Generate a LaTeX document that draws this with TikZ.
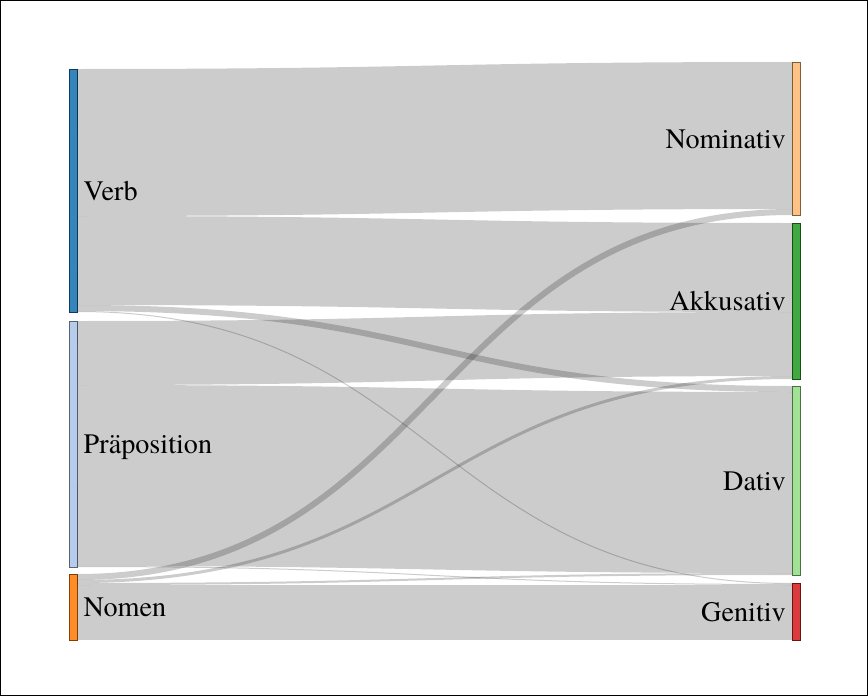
\documentclass[tikz,border=0pt]{standalone}
\usepackage{fontspec}
\newfontfamily\lblfont{texgyretermes-regular.otf}
\usetikzlibrary{positioning}

\definecolor{verbc}{HTML}{1F77B4}
\definecolor{praepc}{HTML}{AEC7E8}
\definecolor{nomenc}{HTML}{FF7F0E}
\definecolor{nomvc}{HTML}{FFBB78}
\definecolor{akkc}{HTML}{2CA02C}
\definecolor{datc}{HTML}{98DF8A}
\definecolor{genc}{HTML}{D62728}

\tikzset{
  bar/.style={fill=#1, draw=#1!50!black, line width=0.5pt, fill opacity=0.9,
    minimum width=8pt, inner sep=0pt, outer sep=0pt, anchor=north west},
  flow/.style={draw=black, draw opacity=0.2, line width=#1pt},
  lbl/.style={inner sep=0pt, text height=19.7pt, text depth=0pt,
    font=\lblfont\fontsize{28.2}{34}\selectfont}
}

\begin{document}
\begin{tikzpicture}[x=1pt, y=-1pt]
  \useasboundingbox (0,0) rectangle (868,696);
  \draw[black, line width=1pt] (0.5,0.5) rectangle (867.5,695.5);
  % draw node bars
  \node[bar=verbc, minimum height=243pt] (verb) at (69.5,69) {};
  \node[bar=praepc, minimum height=246pt] (praep) at (69.5,321) {};
  \node[bar=nomenc, minimum height=66pt] (nomen) at (69.5,574) {};
  \node[bar=nomvc, minimum height=153pt] (nomv) at (792,62) {};
  \node[bar=akkc, minimum height=156pt] (akk) at (792,223) {};
  \node[bar=datc, minimum height=189pt] (dat) at (792,386) {};
  \node[bar=genc, minimum height=57pt] (gen) at (792,583) {};
  % draw flows
  \draw[flow=147] (verb.east |- 0,142.5) .. controls +(357.25,0) and +(-357.25,0) .. (nomv.west |- 0,135.5);
  \draw[flow=89] (verb.east |- 0,260.5) .. controls +(357.25,0) and +(-357.25,0) .. (akk.west |- 0,267.5);
  \draw[flow=6] (verb.east |- 0,308) .. controls +(357.25,0) and +(-357.25,0) .. (dat.west |- 0,389);
  \draw[flow=1] (verb.east |- 0,311.5) .. controls +(357.25,0) and +(-357.25,0) .. (gen.west |- 0,583.5);
  \draw[flow=64] (praep.east |- 0,353) .. controls +(357.25,0) and +(-357.25,0) .. (akk.west |- 0,344);
  \draw[flow=181] (praep.east |- 0,475.5) .. controls +(357.25,0) and +(-357.25,0) .. (dat.west |- 0,482.5);
  \draw[flow=1] (praep.east |- 0,566.5) .. controls +(357.25,0) and +(-357.25,0) .. (gen.west |- 0,584.5);
  \draw[flow=6] (nomen.east |- 0,577) .. controls +(357.25,0) and +(-357.25,0) .. (nomv.west |- 0,212);
  \draw[flow=3] (nomen.east |- 0,581.5) .. controls +(357.25,0) and +(-357.25,0) .. (akk.west |- 0,377.5);
  \draw[flow=2] (nomen.east |- 0,584) .. controls +(357.25,0) and +(-357.25,0) .. (dat.west |- 0,574);
  \draw[flow=55] (nomen.east |- 0,612.5) .. controls +(357.25,0) and +(-357.25,0) .. (gen.west |- 0,612.5);
  % labels
  \node[lbl, right=6pt of verb] (verblbl) {Verb};
  \node[lbl, right=6pt of praep] (praeplbl) {Präposition};
  \node[lbl, right=6pt of nomen] (nomenlbl) {Nomen};
  \node[lbl, left=6pt of nomv] (nomvlbl) {Nominativ};
  \node[lbl, left=6pt of akk] (akklbl) {Akkusativ};
  \node[lbl, left=6pt of dat] (datlbl) {Dativ};
  \node[lbl, left=6pt of gen] (genlbl) {Genitiv};
\end{tikzpicture}
\end{document}
